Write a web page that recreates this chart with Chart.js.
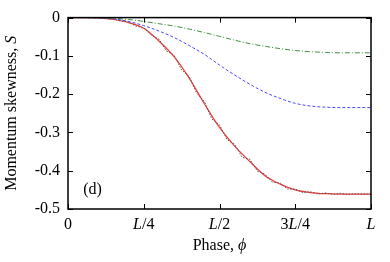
<!DOCTYPE html>
<html>
<head>
<meta charset="utf-8">
<script src="https://cdn.jsdelivr.net/npm/chart.js@4"></script>
<style>
	html, body { margin: 0; padding: 0; background: #fff; }
	#wrap { width: 390px; height: 262px; }
</style>
</head>
<body>
<div id="wrap"><canvas id="skewChart" width="390" height="262"></canvas></div>
<script>
// phase in units of L
var phase = [0, 0.05, 0.1, 0.15, 0.2, 0.25, 0.3, 0.35, 0.4, 0.45, 0.5,
	0.55, 0.6, 0.65, 0.7, 0.75, 0.8, 0.85, 0.9, 0.95, 1.0];
var skewRed = [0, 0, -0.001, -0.005, -0.013, -0.028, -0.061, -0.102, -0.158, -0.225, -0.287,
	-0.336, -0.376, -0.413, -0.435, -0.450, -0.457, -0.460, -0.461, -0.461, -0.461];
var skewBlue = [0, 0, -0.001, -0.003, -0.010, -0.021, -0.035, -0.052, -0.073, -0.096, -0.124,
	-0.150, -0.174, -0.195, -0.211, -0.224, -0.231, -0.234, -0.235, -0.235, -0.235];
var skewGreen = [0, 0, 0, -0.002, -0.005, -0.010, -0.016, -0.022, -0.030, -0.039, -0.049,
	-0.059, -0.068, -0.075, -0.081, -0.086, -0.089, -0.091, -0.092, -0.092, -0.092];

// noisy simulation data (finer phase grid)
var phaseFine = [0, 0.025, 0.05, 0.075, 0.1, 0.125, 0.15, 0.175, 0.2, 0.225, 0.25, 0.275, 0.3,
	0.325, 0.35, 0.375, 0.4, 0.425, 0.45, 0.475, 0.5, 0.525, 0.55, 0.575, 0.6, 0.625, 0.65,
	0.675, 0.7, 0.725, 0.75, 0.775, 0.8, 0.825, 0.85, 0.875, 0.9, 0.925, 0.95, 0.975, 1.0];
var skewNoisy = [0, 0, 0, 0, -0.001, -0.002, -0.004, -0.009, -0.011, -0.023, -0.026, -0.047, -0.056,
	-0.087, -0.098, -0.137, -0.154, -0.198, -0.219, -0.265, -0.280, -0.319, -0.331, -0.365, -0.370, -0.401, -0.409,
	-0.430, -0.432, -0.448, -0.448, -0.457, -0.455, -0.461, -0.458, -0.462, -0.459, -0.462, -0.460, -0.461, -0.461];

var xTickVals = [0, 0.25, 0.5, 0.75, 1];
var xTickText = [[["0", false]], [["L", true], ["/4", false]], [["L", true], ["/2", false]],
	[["3", false], ["L", true], ["/4", false]], [["L", true]]];
var yTickVals = [0, -0.1, -0.2, -0.3, -0.4, -0.5];

var yTitle = [["Momentum skewness, ", false], ["S", true]];
var xTitle = [["Phase, ", false], ["\u03d5", true]];
var panelLabel = "(d)";

var FONT = "'Liberation Serif', 'DejaVu Serif', serif";
var FS = 16;

function pts(xs, ys) {
	var out = [];
	for (let i = 0; i < xs.length; i++) {
		out.push({x: xs[i], y: ys[i]});
	}
	return out;
}

function setFont(ctx, italic) {
	ctx.font = (italic ? "italic " : "") + FS + "px " + FONT;
}

// draws mixed upright/italic text centred on (cx, cy)
function drawMixed(ctx, parts, cx, cy) {
	var w = 0;
	for (let i = 0; i < parts.length; i++) {
		setFont(ctx, parts[i][1]);
		w += ctx.measureText(parts[i][0]).width;
	}
	var x = cx - w / 2;
	ctx.textAlign = "left";
	ctx.textBaseline = "middle";
	for (let i = 0; i < parts.length; i++) {
		setFont(ctx, parts[i][1]);
		ctx.fillText(parts[i][0], x, cy);
		x += ctx.measureText(parts[i][0]).width;
	}
}

var framePlugin = {
	id: "frame",
	afterDraw: function(chart) {
		var ctx = chart.ctx;
		var a = chart.chartArea;
		var xs = chart.scales.x, ys = chart.scales.y;
		var tl = 5;
		ctx.save();
		ctx.strokeStyle = "#000";
		ctx.lineWidth = 1.5;
		ctx.strokeRect(a.left, a.top, a.right - a.left, a.bottom - a.top);
		ctx.lineWidth = 1;
		ctx.beginPath();
		xTickVals.forEach(function(v) {
			var p = Math.round(xs.getPixelForValue(v)) + 0.5;
			ctx.moveTo(p, a.bottom); ctx.lineTo(p, a.bottom - tl);
			ctx.moveTo(p, a.top); ctx.lineTo(p, a.top + tl);
		});
		yTickVals.forEach(function(v) {
			var p = Math.round(ys.getPixelForValue(v)) + 0.5;
			ctx.moveTo(a.left, p); ctx.lineTo(a.left + tl, p);
			ctx.moveTo(a.right, p); ctx.lineTo(a.right - tl, p);
		});
		ctx.stroke();

		ctx.fillStyle = "#000";
		xTickVals.forEach(function(v, i) {
			drawMixed(ctx, xTickText[i], xs.getPixelForValue(v), a.bottom + 16);
		});
		drawMixed(ctx, xTitle, (a.left + a.right) / 2, a.bottom + 37);

		ctx.save();
		ctx.translate(12, (a.top + a.bottom) / 2);
		ctx.rotate(-Math.PI / 2);
		drawMixed(ctx, yTitle, 0, 0);
		ctx.restore();

		setFont(ctx, false);
		ctx.textAlign = "left";
		ctx.textBaseline = "middle";
		ctx.fillText(panelLabel, xs.getPixelForValue(0.05), ys.getPixelForValue(-0.45));
		ctx.restore();
	}
};

var ctx = document.getElementById("skewChart").getContext("2d");
var chart = new Chart(ctx, {
	type: "line",
	data: {
		datasets: [
			{
				data: pts(phase, skewGreen),
				borderColor: "#3f8f3f",
				borderWidth: 1,
				borderDash: [5, 2, 1, 2],
				pointRadius: 0,
				cubicInterpolationMode: "monotone"
			},
			{
				data: pts(phase, skewBlue),
				borderColor: "#4a4aff",
				borderWidth: 1,
				borderDash: [3, 2],
				pointRadius: 0,
				cubicInterpolationMode: "monotone"
			},
			{
				data: pts(phaseFine, skewNoisy),
				borderColor: "#555",
				borderWidth: 1,
				borderDash: [1.5, 1.5],
				pointRadius: 0,
				tension: 0
			},
			{
				data: pts(phase, skewRed),
				borderColor: "#f23a3a",
				borderWidth: 1.2,
				pointRadius: 0,
				cubicInterpolationMode: "monotone"
			}
		]
	},
	options: {
		responsive: false,
		animation: false,
		layout: {
			padding: {left: 0, right: 19, top: 13, bottom: 0}
		},
		plugins: {
			legend: {display: false},
			tooltip: {enabled: false}
		},
		scales: {
			x: {
				type: "linear",
				min: 0,
				max: 1,
				grid: {display: false, drawTicks: false},
				border: {display: false},
				ticks: {display: false},
				afterFit: function(scale) { scale.height = 53; }
			},
			y: {
				min: -0.5,
				max: 0,
				grid: {display: false, drawTicks: false},
				border: {display: false},
				afterBuildTicks: function(scale) {
					scale.ticks = yTickVals.map(function(v) { return {value: v}; });
				},
				ticks: {
					color: "#000",
					padding: 8,
					font: {family: FONT, size: FS},
					callback: function(v) { return v === 0 ? "0" : v.toFixed(1); }
				},
				afterFit: function(scale) { scale.width = 68; }
			}
		}
	},
	plugins: [framePlugin]
});
</script>
</body>
</html>
